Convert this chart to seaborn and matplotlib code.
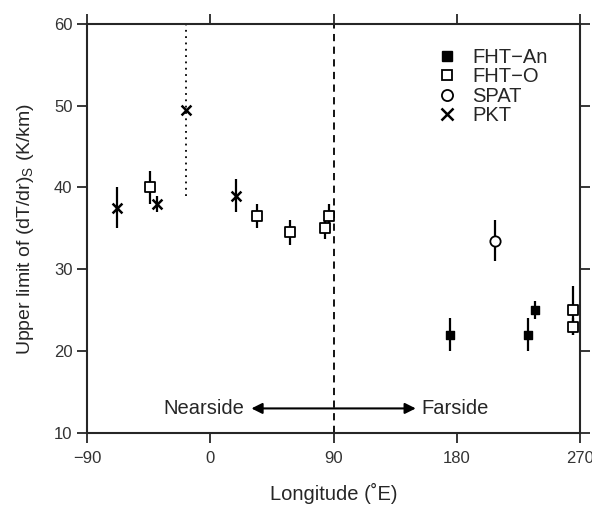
import seaborn as sns
import matplotlib.pyplot as plt
from matplotlib.lines import Line2D

# data (longitude in deg E, upper limit of dT/dr in K/km)
fht_an_lon = [175, 232, 237]
fht_an_val = [22, 22, 25]
fht_an_err = [2.0, 2.0, 1.1]

fht_o_lon = [-44, 34, 58, 84, 87, 265, 265]
fht_o_val = [40, 36.5, 34.5, 35, 36.5, 25, 23]
fht_o_err = [2.0, 1.5, 1.5, 1.3, 1.5, 3.0, 1.0]

spat_lon = [208]
spat_val = [33.5]
spat_err = [2.5]

pkt_lon = [-68, -39, 19]
pkt_val = [37.5, 38, 39]
pkt_err = [2.5, 1.0, 2.0]

# PKT point with a dotted range
pkt2_lon = [-18]
pkt2_val = [49.5]
pkt2_low = [39]
pkt2_high = [60]

sns.set_style("ticks")
plt.rcParams['font.family'] = ['Liberation Sans', 'DejaVu Sans']

fig = plt.figure(figsize=(5.92, 5.07), dpi=100)
ax = fig.add_axes([0.147, 0.146, 0.833, 0.807])

eb = dict(fmt='none', ecolor='black', elinewidth=1.6, capsize=0, zorder=2)
ax.errorbar(fht_an_lon, fht_an_val, yerr=fht_an_err, **eb)
ax.errorbar(fht_o_lon, fht_o_val, yerr=fht_o_err, **eb)
ax.errorbar(spat_lon, spat_val, yerr=spat_err, **eb)
ax.errorbar(pkt_lon, pkt_val, yerr=pkt_err, **eb)
ax.vlines(pkt2_lon, pkt2_low, pkt2_high, colors='black', linestyles=(0, (1, 2.5)), lw=1.3, zorder=2)

sns.scatterplot(x=fht_an_lon, y=fht_an_val, marker='s', s=40, color='black',
                edgecolor='black', linewidth=1, ax=ax, zorder=3)
sns.scatterplot(x=fht_o_lon, y=fht_o_val, marker='s', s=50, facecolor='white',
                edgecolor='black', linewidth=1.3, ax=ax, zorder=3)
sns.scatterplot(x=spat_lon, y=spat_val, marker='o', s=55, facecolor='white',
                edgecolor='black', linewidth=1.3, ax=ax, zorder=3)
sns.scatterplot(x=pkt_lon + pkt2_lon, y=pkt_val + pkt2_val, marker='x', s=50,
                color='black', linewidth=1.8, ax=ax, zorder=3)

ax.axvline(90, color='black', ls=(0, (4, 3)), lw=1.3, zorder=1)

ax.annotate('', xy=(30, 13), xytext=(150, 13),
            arrowprops=dict(arrowstyle='<|-|>', color='black', lw=1.5,
                            mutation_scale=16, shrinkA=0, shrinkB=0))
ax.text(25, 13, 'Nearside', ha='right', va='center', fontsize=14.5)
ax.text(154, 13, 'Farside', ha='left', va='center', fontsize=14.5)

ax.set_xlim(-90, 270)
ax.set_ylim(10, 60)
ax.set_xticks([-90, 0, 90, 180, 270])
ax.set_yticks([10, 20, 30, 40, 50, 60])
ax.tick_params(direction='out', length=7, width=1.3, top=True, right=True,
               labelsize=12, labelcolor='#333333')
ax.tick_params(axis='x', pad=6)
for sp in ax.spines.values():
    sp.set_linewidth(1.5)

ax.set_xlabel('Longitude (\u02daE)', fontsize=14.5, labelpad=12)
ax.set_ylabel(r'Upper limit of (dT/dr)$_\mathregular{S}$ (K/km)', fontsize=14, labelpad=13)

handles = [
    Line2D([], [], ls='none', marker='s', ms=7, mfc='black', mec='black'),
    Line2D([], [], ls='none', marker='s', ms=7, mfc='white', mec='black', mew=1.3),
    Line2D([], [], ls='none', marker='o', ms=8, mfc='white', mec='black', mew=1.3),
    Line2D([], [], ls='none', marker='x', ms=8, color='black', mew=1.8),
]
ax.legend(handles, ['FHT\u2212An', 'FHT\u2212O', 'SPAT', 'PKT'], loc='upper left',
          bbox_to_anchor=(0.69, 0.966), frameon=False, fontsize=14.5,
          labelspacing=0.02, handlelength=1.0, handletextpad=0.75, borderpad=0)

fig.savefig('out.png', dpi=100)
